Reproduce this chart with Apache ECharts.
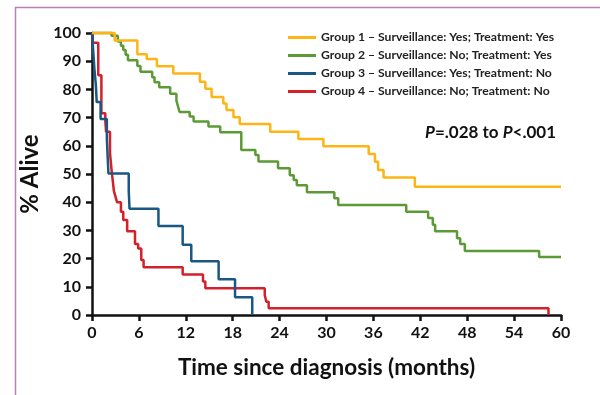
<!DOCTYPE html>
<html>
<head>
<meta charset="utf-8">
<script src="https://cdn.jsdelivr.net/npm/echarts@6/dist/echarts.min.js"></script>
<style>
  html, body { margin: 0; padding: 0; background: #fff; }
  #chart { width: 600px; height: 395px; }
</style>
</head>
<body>
<div id="chart"></div>
<script>
// Kaplan-Meier step data (months, % alive)
const groupNames = [
  "Group 1 \u2013 Surveillance: Yes; Treatment: Yes",
  "Group 2 \u2013 Surveillance: No; Treatment: Yes",
  "Group 3 \u2013 Surveillance: Yes; Treatment: No",
  "Group 4 \u2013 Surveillance: No; Treatment: No"
];
const groupColors = ["#fdb515", "#5b9a35", "#1b5783", "#d3202a"];

const g1Time = [0, 2.9, 5.8, 7.0, 8.3, 10.4, 13.8, 14.5, 15.3, 16.8, 17.2, 18.1, 18.9, 22.8, 26.4, 29.6, 35.4, 36.2, 36.6, 37.3, 41.3, 60];
const g1Surv = [100, 97.3, 92.5, 90.8, 88.2, 85.6, 82.7, 80.2, 77.3, 75, 72.7, 70.1, 67.7, 65, 62.4, 59.8, 57.1, 54.3, 51.4, 48.8, 45.5, 45.5];

const g2Time = [0, 2.5, 3.3, 3.7, 4.0, 4.3, 4.6, 5.8, 6.2, 7.7, 8.0, 8.6, 10.0, 10.8, 11.0, 11.2, 12.5, 13.0, 14.9, 16.4, 19.1, 20.9, 21.3, 23.8, 25.3, 25.8, 26.2, 27.5, 31.0, 31.5, 40.2, 43.0, 43.6, 43.9, 46.7, 47.1, 47.7, 57.2, 60];
const g2Surv = [100, 99, 97, 95.5, 94, 92.3, 90.3, 88.3, 86.3, 84.3, 82.5, 80.8, 78.5, 76, 74, 72, 70.4, 68.6, 66.8, 64.8, 58.5, 56.7, 54.4, 52, 49.6, 47.9, 46, 43.5, 41.4, 39, 36.6, 34.4, 32, 29.7, 27.2, 25.2, 22.7, 20.6, 20.6];

const g3Time = [0, 0.15, 0.3, 0.5, 0.6, 1.1, 1.9, 2.0, 2.1, 4.7, 4.8, 8.5, 11.6, 12.7, 16.2, 18.3, 20.5];
const g3Surv = [100, 93.8, 87.5, 81.3, 75.5, 69.5, 62.5, 56.3, 50.2, 44, 37.7, 31.6, 24.9, 19.1, 12.7, 6.3, 0];

const g4Time = [0, 0.1, 0.8, 1.2, 1.7, 1.8, 2.3, 2.5, 2.6, 2.8, 3.0, 3.2, 3.7, 4.0, 4.5, 5.5, 5.9, 6.3, 6.6, 11.6, 14.2, 14.5, 22.1, 22.3, 22.6, 58.4];
const g4Surv = [100, 96.5, 85, 71.5, 69, 65, 57.5, 51.5, 49, 44, 42, 40, 36.6, 33.7, 29.7, 25.2, 23.6, 19.5, 16.9, 14.4, 11.9, 9.5, 7.1, 4.7, 2.4, 0];

const xTicks = [0, 6, 12, 18, 24, 30, 36, 42, 48, 54, 60];

const times = [g1Time, g2Time, g3Time, g4Time];
const survs = [g1Surv, g2Surv, g3Surv, g4Surv];

const font = "Lato, 'Open Sans', sans-serif";
const myChart = echarts.init(document.getElementById("chart"));

myChart.setOption({
  animation: false,
  grid: { left: 92, right: 39, top: 33, bottom: 80 },
  legend: {
    left: 283,
    top: 26,
    orient: "vertical",
    itemWidth: 28,
    itemHeight: 3,
    itemGap: 5,
    icon: "rect",
    data: groupNames,
    textStyle: { fontFamily: font, fontWeight: "bold", fontSize: 12.2, color: "#222", lineHeight: 13 }
  },
  graphic: [
    {
      type: "rect",
      left: 13, top: 5,
      shape: { width: 700, height: 500 },
      style: { fill: "none", stroke: "#b77fba", lineWidth: 1.5 },
      silent: true
    },
    {
      type: "text",
      left: 425, top: 124,
      style: {
        text: "{i|P}=.028 to {i|P}<.001",
        font: "bold 17px " + font,
        fill: "#111",
        rich: {
          i: { fontStyle: "italic", fontWeight: "bold", fontSize: 17, fontFamily: font, fill: "#111" }
        }
      }
    }
  ],
  xAxis: {
    type: "value",
    min: 0, max: 60, interval: 6,
    name: "Time since diagnosis (months)",
    nameLocation: "middle",
    nameGap: 41,
    nameTextStyle: { fontFamily: font, fontWeight: "bold", fontSize: 22.5, color: "#111" },
    axisLine: { lineStyle: { color: "#111", width: 2.5 } },
    axisTick: { show: true, length: 6, lineStyle: { color: "#111", width: 2.5 } },
    axisLabel: {
      margin: 10,
      fontFamily: font, fontWeight: "bold", fontSize: 16, color: "#111",
      formatter: function (v) { return xTicks.indexOf(v) >= 0 ? String(v) : ""; }
    },
    splitLine: { show: false }
  },
  yAxis: {
    type: "value",
    min: 0, max: 100, interval: 10,
    name: "% Alive",
    nameLocation: "middle",
    nameGap: 44,
    nameRotate: 90,
    nameTextStyle: { fontFamily: font, fontWeight: "bold", fontSize: 24, color: "#111" },
    axisLine: { show: true, lineStyle: { color: "#111", width: 2.5 } },
    axisTick: { show: true, length: 6, lineStyle: { color: "#111", width: 2.5 } },
    axisLabel: { margin: 11, fontFamily: font, fontWeight: "bold", fontSize: 16, color: "#111" },
    splitLine: { show: false }
  },
  series: groupNames.map(function (name, i) {
    return {
      name: name,
      type: "line",
      step: "end",
      showSymbol: false,
      clip: false,
      z: 10 - i,
      color: groupColors[i],
      lineStyle: { width: 2.5, color: groupColors[i] },
      data: times[i].map(function (t, k) { return [t, survs[i][k]]; })
    };
  })
});

window.addEventListener("resize", function () {
  myChart.resize();
});
</script>
</body>
</html>
